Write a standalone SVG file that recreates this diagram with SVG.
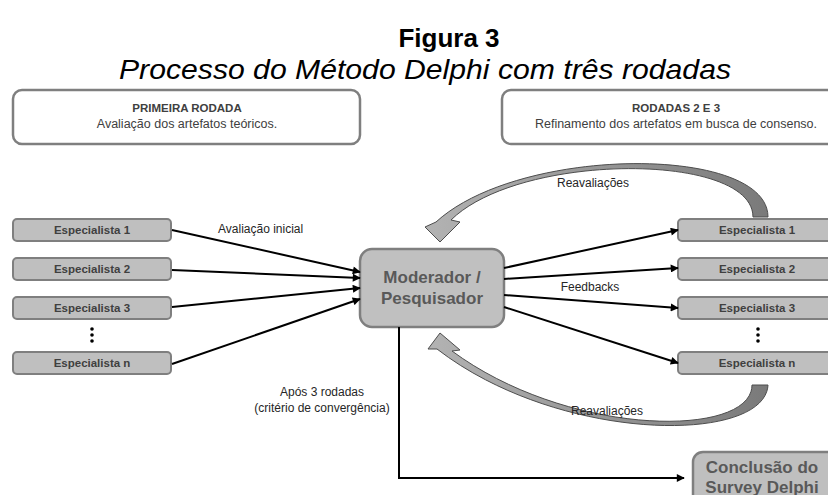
<svg xmlns="http://www.w3.org/2000/svg" width="828" height="495" viewBox="0 0 828 495">
<style>
.t{font-family:"Liberation Sans",Arial,sans-serif;}
.hb{fill:#fff;stroke:#7f7f7f;stroke-width:2.5;}
.sp{fill:#bfbfbf;stroke:#7f7f7f;stroke-width:2;}
.spt{font-family:"Liberation Sans",Arial,sans-serif;font-weight:bold;font-size:11.5px;fill:#404040;text-anchor:middle;}
.big{font-family:"Liberation Sans",Arial,sans-serif;font-weight:bold;font-size:17px;fill:#595959;text-anchor:middle;}
.lbl{font-family:"Liberation Sans",Arial,sans-serif;font-size:12px;fill:#262626;}
.ln{fill:none;stroke:#000;stroke-width:2;marker-end:url(#ah);}
.ca{fill:url(#cg);stroke:#4d4d4d;stroke-width:1;}
</style>
<defs>
<marker id="ah" viewBox="0 0 10 10" refX="9" refY="5" markerWidth="4.5" markerHeight="4" orient="auto">
<path d="M0,0 L10,5 L0,10 z" fill="#000"/>
</marker>
<linearGradient id="cg" x1="0" y1="0" x2="1" y2="0">
<stop offset="0" stop-color="#b3b3b3"/>
<stop offset="1" stop-color="#7a7a7a"/>
</linearGradient>
</defs>
<text class="t" x="449" y="47" font-size="26" font-weight="bold" text-anchor="middle" fill="#000">Figura 3</text>
<text class="t" x="119" y="79" font-size="28" font-style="italic" textLength="612" lengthAdjust="spacingAndGlyphs" fill="#000">Processo do Método Delphi com três rodadas</text>
<g id="header-left">
<rect class="hb" x="13" y="90" width="347" height="54" rx="9"/>
<text class="t" x="187" y="112" font-size="11.5" font-weight="bold" text-anchor="middle" fill="#404040">PRIMEIRA RODADA</text>
<text class="t" x="187" y="128" font-size="12.5" text-anchor="middle" fill="#404040">Avaliação dos artefatos teóricos.</text>
</g>
<g id="header-right">
<rect class="hb" x="502" y="90" width="347" height="54" rx="9"/>
<text class="t" x="676" y="112" font-size="11.5" font-weight="bold" text-anchor="middle" fill="#404040">RODADAS 2 E 3</text>
<text class="t" x="676" y="128" font-size="12.5" text-anchor="middle" fill="#404040">Refinamento dos artefatos em busca de consenso.</text>
</g>
<g id="left-esp1"><rect class="sp" x="13" y="219" width="158" height="22" rx="4"/><text class="spt" x="92" y="234">Especialista 1</text></g>
<g id="left-esp2"><rect class="sp" x="13" y="258" width="158" height="22" rx="4"/><text class="spt" x="92" y="273">Especialista 2</text></g>
<g id="left-esp3"><rect class="sp" x="13" y="297" width="158" height="22" rx="4"/><text class="spt" x="92" y="312">Especialista 3</text></g>
<g id="left-dots" fill="#000"><circle cx="92" cy="329" r="1.8"/><circle cx="92" cy="335" r="1.8"/><circle cx="92" cy="341" r="1.8"/></g>
<g id="left-espn"><rect class="sp" x="13" y="352" width="158" height="22" rx="4"/><text class="spt" x="92" y="367">Especialista n</text></g>
<g id="right-esp1"><rect class="sp" x="678" y="219" width="158" height="22" rx="4"/><text class="spt" x="757" y="234">Especialista 1</text></g>
<g id="right-esp2"><rect class="sp" x="678" y="258" width="158" height="22" rx="4"/><text class="spt" x="757" y="273">Especialista 2</text></g>
<g id="right-esp3"><rect class="sp" x="678" y="297" width="158" height="22" rx="4"/><text class="spt" x="757" y="312">Especialista 3</text></g>
<g id="right-dots" fill="#000"><circle cx="758" cy="329" r="1.8"/><circle cx="758" cy="335" r="1.8"/><circle cx="758" cy="341" r="1.8"/></g>
<g id="right-espn"><rect class="sp" x="678" y="352" width="158" height="22" rx="4"/><text class="spt" x="757" y="367">Especialista n</text></g>
<g id="moderador">
<rect x="360" y="249" width="144" height="78" rx="12" fill="#c0c0c0" stroke="#7f7f7f" stroke-width="2.5"/>
<text class="big" x="432" y="283">Moderador /</text>
<text class="big" x="432" y="304">Pesquisador</text>
</g>
<g id="conclusao">
<rect x="693" y="452" width="150" height="62" rx="10" fill="#bfbfbf" stroke="#7f7f7f" stroke-width="2.5"/>
<text class="big" x="762" y="473">Conclusão do</text>
<text class="big" x="762" y="493">Survey Delphi</text>
</g>
<g id="connectors">
<path class="ln" d="M172,230 L360,272"/>
<path class="ln" d="M172,270 L360,278"/>
<path class="ln" d="M172,307 L360,288"/>
<path class="ln" d="M172,364 L360,299"/>
<path class="ln" d="M504,268 L678,230"/>
<path class="ln" d="M504,279 L678,268"/>
<path class="ln" d="M504,295 L678,308"/>
<path class="ln" d="M504,307 L678,363"/>
<path class="ln" d="M399,327 V478 H684"/>
<path class="ca" d="M768,217 C768,145 520,145 436,222 L425,227 L440,242 L460,222 L451,220 C520,152 753,152 753,217 Z"/>
<path class="ca" d="M768,385 C765,444 560,444 437,349 L428,349 L440,333 L460,350 L452,351 C570,438 752,438 752,385 Z"/>
</g>
<g id="labels">
<text class="lbl" x="218" y="233">Avaliação inicial</text>
<text class="lbl" x="590" y="291" text-anchor="middle">Feedbacks</text>
<text class="lbl" x="593" y="187" text-anchor="middle">Reavaliações</text>
<text class="lbl" x="607" y="415" text-anchor="middle">Reavaliações</text>
<text class="lbl" x="322" y="396" text-anchor="middle">Após 3 rodadas</text>
<text class="lbl" x="322" y="412" text-anchor="middle">(critério de convergência)</text>
</g>
</svg>
